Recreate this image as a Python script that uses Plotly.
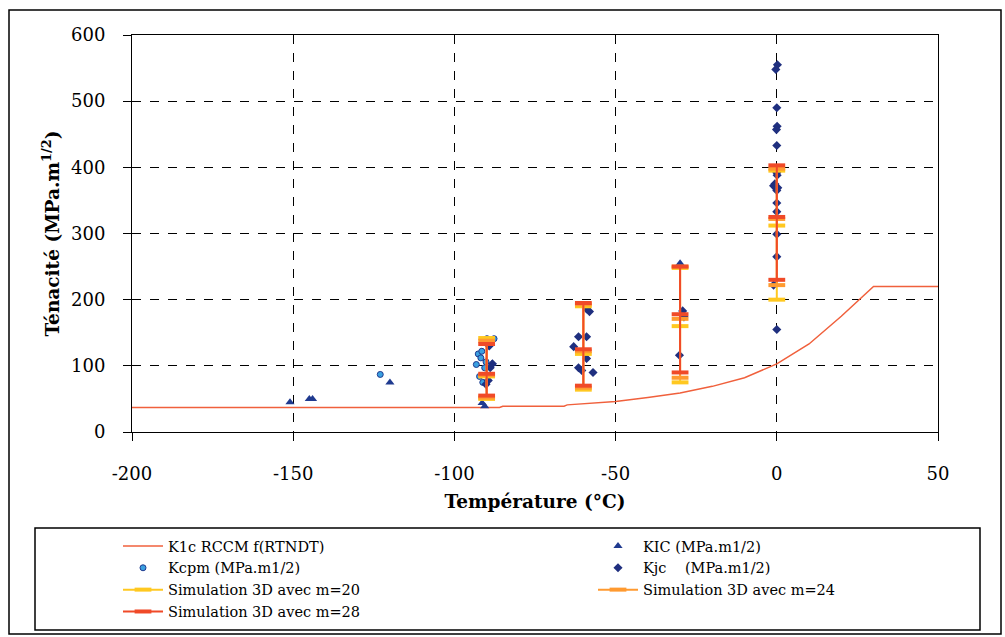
import plotly.graph_objects as go

# ---------------- data ----------------
rccm_T = [-200, -86, -85, -66, -65, -50, -40, -30, -20, -10, 0, 10, 20, 30, 50]
rccm_K = [37, 37, 39, 39, 41, 46, 52, 59, 69, 82, 103, 133, 175, 220, 220]

kic_T = [-151, -145, -144, -120, -91.4, -90.6, -88.3, -30, -0.4]
kic_K = [45, 50, 50, 75, 44, 39, 103, 255, 222]

kcpm_T = [-123, -92.6, -91.8, -93.2, -92.2, -91.2, -90.2, -90.6, -87.7, -89.9, -91.5]
kcpm_K = [87, 118, 112, 102, 84, 75, 106, 97, 141, 141, 122]

kjc_T = [-89.5, -88.2, -90.2, -89.2, -88.9,
         -58.1, -61.5, -59, -63, -61.5, -59, -57, -59, -60.5,
         -29.2, -28.8, -30.2,
         0.2, -0.3, 0, 0.1, -0.1, 0, 0, 0.1, -0.6, -1, 0.3, 0, 0, 0, 0, 0, -1, 0]
kjc_K = [78, 103, 72, 130, 97,
         182, 144, 144, 129, 97, 111, 90, 186, 93,
         183, 174, 116,
         555, 548, 490, 462, 457, 433, 392, 388, 375, 372, 369, 365, 346, 333, 299, 265, 222, 155]

sim_T = [-90, -60, -30, 0]
sim20_low = [50, 64, 75, 200]
sim20_mid = [84, 118, 160, 312]
sim20_high = [142, 190, 248, 395]
sim24_low = [52, 67, 82, 222]
sim24_mid = [86, 122, 171, 322]
sim24_high = [138, 193, 250, 398]
sim28_low = [55, 70, 90, 230]
sim28_mid = [88, 125, 178, 325]
sim28_high = [133, 195, 250, 403]

x_ticks = [-200, -150, -100, -50, 0, 50]
y_ticks = [0, 100, 200, 300, 400, 500, 600]

FONT = "DejaVu Serif"

# --------------- helpers --------------
W, H = 1005, 637
L, R, T, B = 132, 938, 35, 432


def px(x):
    return (x - L) / (R - L)


def py(y):
    return (B - y) / (B - T)


def sim_xy(temps, lo, mid, hi):
    xs, ys = [], []
    for t, a, b, c in zip(temps, lo, mid, hi):
        xs += [t, t, t, None]
        ys += [a, b, c, None]
    return xs, ys


fig = go.Figure()

fig.add_trace(go.Scatter(x=rccm_T, y=rccm_K, mode="lines", name="K1c RCCM f(RTNDT)",
                         legend="legend", legendrank=1,
                         line=dict(color="#f0603c", width=1.5)))
fig.add_trace(go.Scatter(x=kic_T, y=kic_K, mode="markers", name="KIC (MPa.m1/2)",
                         legend="legend2", legendrank=1,
                         marker=dict(symbol="triangle-up", size=8, color="#1f3a8f")))
fig.add_trace(go.Scatter(x=kcpm_T, y=kcpm_K, mode="markers", name="Kcpm (MPa.m1/2)",
                         legend="legend", legendrank=2,
                         marker=dict(symbol="circle", size=6, color="#3aa0e0",
                                     line=dict(color="#1f3a8f", width=1))))
fig.add_trace(go.Scatter(x=kjc_T, y=kjc_K, mode="markers", name="Kjc    (MPa.m1/2)",
                         legend="legend2", legendrank=2,
                         marker=dict(symbol="diamond", size=7, color="#1f2f7f")))

for name, lo, mid, hi, col, lg, rk in [
    ("Simulation 3D avec m=20", sim20_low, sim20_mid, sim20_high, "#ffc820", "legend", 3),
    ("Simulation 3D avec m=24", sim24_low, sim24_mid, sim24_high, "#ff9a30", "legend2", 3),
    ("Simulation 3D avec m=28", sim28_low, sim28_mid, sim28_high, "#f04a28", "legend", 4),
]:
    xs, ys = sim_xy(sim_T, lo, mid, hi)
    fig.add_trace(go.Scatter(x=xs, y=ys, mode="lines+markers", name=name,
                             legend=lg, legendrank=rk,
                             line=dict(color=col, width=2),
                             marker=dict(symbol="line-ew", size=12, color=col,
                                         line=dict(color=col, width=4)),
                             connectgaps=False))

axis_common = dict(showline=True, linecolor="black", linewidth=1, mirror=True,
                   showgrid=True, gridcolor="black", gridwidth=1, griddash="dash",
                   ticks="outside", ticklen=8, tickcolor="black", zeroline=False,
                   tickfont=dict(family=FONT, size=18, color="black"))

fig.update_xaxes(range=[-200, 50], tickvals=x_ticks, ticktext=[str(v) for v in x_ticks],
                 ticklabelstandoff=17,
                 title=dict(text="<b>Température (°C)</b>", standoff=12,
                            font=dict(family=FONT, size=18.5, color="black")),
                 **axis_common)
fig.update_yaxes(range=[0, 600], tickvals=y_ticks, ticktext=[str(v) for v in y_ticks],
                 ticklabelstandoff=14,
                 title=dict(text="<b>Ténacité (MPa.m<sup>1/2</sup>)</b>", standoff=6,
                            font=dict(family=FONT, size=18.5, color="black")),
                 **axis_common)

shapes = [
    dict(type="rect", xref="paper", yref="paper",
         x0=px(35), x1=px(980), y0=py(528), y1=py(630),
         line=dict(color="black", width=1.5), fillcolor="rgba(0,0,0,0)"),
    dict(type="rect", xref="paper", yref="paper",
         x0=px(9), x1=px(1001), y0=py(10), y1=py(634),
         line=dict(color="black", width=1.5), fillcolor="rgba(0,0,0,0)"),
]

legend_common = dict(orientation="v", yanchor="top", xanchor="left",
                     traceorder="normal", itemwidth=40, tracegroupgap=0,
                     bgcolor="rgba(0,0,0,0)", borderwidth=0,
                     font=dict(family=FONT, size=14.5, color="black"))

fig.update_layout(
    width=W, height=H,
    margin=dict(l=L, r=W - R, t=T, b=H - B, pad=0, autoexpand=False),
    paper_bgcolor="white", plot_bgcolor="white",
    font=dict(family=FONT, color="black"),
    showlegend=True,
    legend=dict(x=px(118), y=py(530), **legend_common),
    legend2=dict(x=px(593), y=py(530), **legend_common),
    shapes=shapes,
)

fig.write_html("out.html", config={"displayModeBar": False},
               post_script="document.body.style.margin='0';document.body.style.overflow='hidden';")
